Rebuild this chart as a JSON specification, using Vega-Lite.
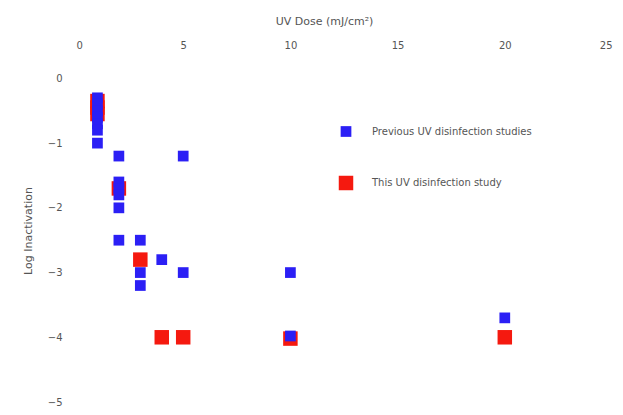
{
  "$schema": "https://vega.github.io/schema/vega-lite/v6.json",
  "width": 536,
  "height": 343,
  "autosize": "none",
  "padding": {"left": 76, "top": 59, "right": 11, "bottom": 13},
  "background": "white",
  "config": {
    "view": {"stroke": null},
    "font": "DejaVu Sans",
    "axis": {"grid": false, "domain": false, "ticks": false, "labelFont": "DejaVu Sans", "labelFontSize": 10, "labelColor": "#555", "titleFont": "DejaVu Sans", "titleFontSize": 11, "titleFontWeight": "normal", "titleColor": "#555"}
  },
  "data": {
    "values": [
      {"dose": 1, "log": -0.35, "series": "This UV disinfection study"},
      {"dose": 1, "log": -0.45, "series": "This UV disinfection study"},
      {"dose": 1, "log": -0.55, "series": "This UV disinfection study"},
      {"dose": 2, "log": -1.7, "series": "This UV disinfection study"},
      {"dose": 3, "log": -2.8, "series": "This UV disinfection study"},
      {"dose": 4, "log": -4.0, "series": "This UV disinfection study"},
      {"dose": 5, "log": -4.0, "series": "This UV disinfection study"},
      {"dose": 10, "log": -4.02, "series": "This UV disinfection study"},
      {"dose": 20, "log": -4.0, "series": "This UV disinfection study"},
      {"dose": 1, "log": -0.3, "series": "Previous UV disinfection studies"},
      {"dose": 1, "log": -0.4, "series": "Previous UV disinfection studies"},
      {"dose": 1, "log": -0.5, "series": "Previous UV disinfection studies"},
      {"dose": 1, "log": -0.6, "series": "Previous UV disinfection studies"},
      {"dose": 1, "log": -0.7, "series": "Previous UV disinfection studies"},
      {"dose": 1, "log": -0.8, "series": "Previous UV disinfection studies"},
      {"dose": 1, "log": -1.0, "series": "Previous UV disinfection studies"},
      {"dose": 2, "log": -1.2, "series": "Previous UV disinfection studies"},
      {"dose": 5, "log": -1.2, "series": "Previous UV disinfection studies"},
      {"dose": 2, "log": -1.6, "series": "Previous UV disinfection studies"},
      {"dose": 2, "log": -1.7, "series": "Previous UV disinfection studies"},
      {"dose": 2, "log": -1.8, "series": "Previous UV disinfection studies"},
      {"dose": 2, "log": -2.0, "series": "Previous UV disinfection studies"},
      {"dose": 2, "log": -2.5, "series": "Previous UV disinfection studies"},
      {"dose": 3, "log": -2.5, "series": "Previous UV disinfection studies"},
      {"dose": 4, "log": -2.8, "series": "Previous UV disinfection studies"},
      {"dose": 3, "log": -3.0, "series": "Previous UV disinfection studies"},
      {"dose": 3, "log": -3.2, "series": "Previous UV disinfection studies"},
      {"dose": 5, "log": -3.0, "series": "Previous UV disinfection studies"},
      {"dose": 10, "log": -3.0, "series": "Previous UV disinfection studies"},
      {"dose": 10, "log": -3.98, "series": "Previous UV disinfection studies"},
      {"dose": 20, "log": -3.7, "series": "Previous UV disinfection studies"}
    ]
  },
  "mark": {"type": "point", "shape": "square", "filled": true, "opacity": 1},
  "encoding": {
    "x": {
      "field": "dose", "type": "quantitative",
      "scale": {"domain": [0, 25], "nice": false},
      "axis": {"orient": "top", "values": [0, 5, 10, 15, 20, 25], "labelPadding": 9, "title": "UV Dose (mJ/cm²)", "titlePadding": 14, "titleX": 248}
    },
    "y": {
      "field": "log", "type": "quantitative",
      "scale": {"domain": [-5, 0.3], "nice": false, "zero": false},
      "axis": {"values": [0, -1, -2, -3, -4, -5], "labelPadding": 14, "title": "Log Inactivation", "titlePadding": 14}
    },
    "color": {
      "field": "series", "type": "nominal",
      "scale": {"domain": ["Previous UV disinfection studies", "This UV disinfection study"], "range": ["#2b1ff5", "#f5190f"]},
      "legend": {"title": null, "orient": "none", "legendX": 262, "legendY": 66, "symbolType": "square", "labelFont": "DejaVu Sans", "labelFontSize": 10, "labelColor": "#555", "labelOffset": 18, "rowPadding": 38}
    },
    "size": {
      "field": "series", "type": "nominal",
      "scale": {"domain": ["Previous UV disinfection studies", "This UV disinfection study"], "range": [115, 210]},
      "legend": {"title": null, "orient": "none", "legendX": 262, "legendY": 66, "symbolType": "square", "labelFont": "DejaVu Sans", "labelFontSize": 10, "labelColor": "#555", "labelOffset": 18, "rowPadding": 38}
    }
  }
}
